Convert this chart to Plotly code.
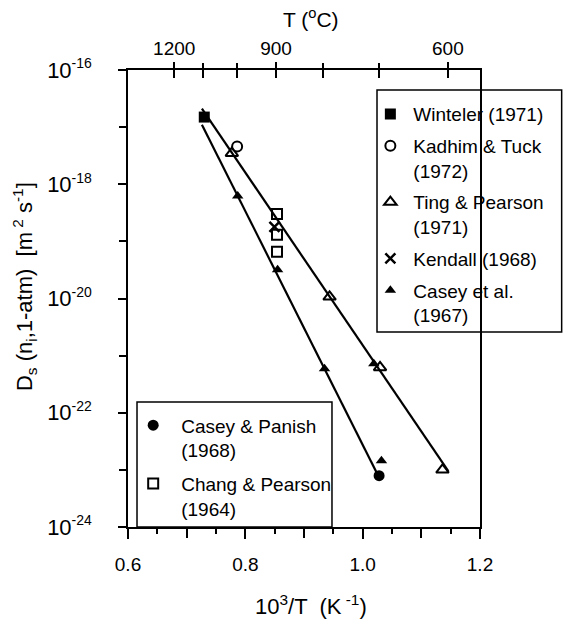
import plotly.graph_objects as go

# ---------------- data ----------------
winteler_x = [0.730]
winteler_D = [1.5e-17]

kadhim_x = [0.786]
kadhim_D = [4.6e-18]

ting_x = [0.777, 0.9436, 1.0296, 1.136]
ting_D = [3.5e-18, 1.07e-20, 6.2e-22, 1.0e-23]

kendall_x = [0.8496]
kendall_D = [1.8e-19]

casey67_x = [0.787, 0.855, 0.935, 1.019, 1.032]
casey67_D = [6.2e-19, 3.2e-20, 5.9e-22, 7.2e-22, 1.45e-23]

caseypanish_x = [1.028]
caseypanish_D = [7.9e-24]

chang_x = [0.854, 0.854, 0.854]
chang_D = [3.0e-19, 1.3e-19, 6.6e-20]

fit_upper_x = [0.726, 1.146]
fit_upper_D = [2.1e-17, 9.5e-24]
fit_lower_x = [0.726, 1.025]
fit_lower_D = [1.1e-17, 8.5e-24]

x_labeled = [0.6, 0.8, 1.0, 1.2]
x_labels = ["0.6", "0.8", "1.0", "1.2"]
x_unlabeled = [0.7, 0.9, 1.1]
y_labeled_exp = [-16, -18, -20, -22, -24]
y_unlabeled_exp = [-17, -19, -21, -23]
top_temps_C = [1200, 1100, 1000, 900, 800, 700, 600]
top_labeled_C = [1200, 900, 600]

# ---------------- figure ----------------
FONT = "Liberation Sans, Arial, sans-serif"
fig = go.Figure()

lk = dict(color="black", width=2.2)
fig.add_trace(go.Scatter(x=fit_upper_x, y=fit_upper_D, mode="lines", line=lk,
                         showlegend=False, hoverinfo="skip"))
fig.add_trace(go.Scatter(x=fit_lower_x, y=fit_lower_D, mode="lines", line=lk,
                         showlegend=False, hoverinfo="skip"))

def pts(x, y, name, symbol, size, legend, group, lw=2):
    fig.add_trace(go.Scatter(
        x=x, y=y, mode="markers", name=name, legend=legend, legendgroup=group,
        marker=dict(symbol=symbol, size=size, color="black",
                    line=dict(color="black", width=lw))))

pts(winteler_x, winteler_D, "Winteler (1971)", "square", 11, "legend", "a", 0)
pts(kadhim_x, kadhim_D, "Kadhim & Tuck<br>(1972)", "circle-open", 10, "legend", "b")
pts(ting_x, ting_D, "Ting & Pearson<br>(1971)", "triangle-up-open", 11, "legend", "c")
pts(kendall_x, kendall_D, "Kendall (1968)", "x-thin-open", 10, "legend", "d", 2.5)
pts(casey67_x, casey67_D, "Casey et al.<br>(1967)", "triangle-up", 10, "legend", "e", 0)
pts(caseypanish_x, caseypanish_D, "Casey & Panish<br>(1968)", "circle", 11, "legend2", "f", 0)
pts(chang_x, chang_D, "Chang & Pearson<br>(1964)", "square-open", 10, "legend2", "g")

# dummy traces to bind the helper axes
for xa in ["x2", "x3", "x4", "x5"]:
    fig.add_trace(go.Scatter(x=[None], y=[None], xaxis=xa, yaxis="y",
                             showlegend=False, hoverinfo="skip"))
fig.add_trace(go.Scatter(x=[None], y=[None], xaxis="x", yaxis="y2",
                         showlegend=False, hoverinfo="skip"))

inv_T = lambda tc: 1000.0 / (tc + 273.15)
top_all = [inv_T(t) for t in top_temps_C]
top_lab = [inv_T(t) for t in top_labeled_C]

base = dict(showgrid=False, zeroline=False, linecolor="black", linewidth=1.5,
            tickcolor="black", tickwidth=1.5)
f19 = dict(tickfont=dict(family=FONT, size=19, color="black"))
XR = [0.6, 1.2]

fig.update_layout(
    width=563, height=625,
    margin=dict(l=128, r=83, t=70, b=98),
    paper_bgcolor="white", plot_bgcolor="white",
    font=dict(family=FONT, size=19, color="black"),
    xaxis=dict(range=XR, tickmode="array", tickvals=x_labeled, ticktext=x_labels,
               ticks="outside", ticklen=10, showline=True, ticklabelstandoff=9,
               minor=dict(tickmode="linear", tick0=0.65, dtick=0.1, ticks="outside",
                          ticklen=5, tickwidth=1.5, tickcolor="black"),
               **base, **f19),
    xaxis5=dict(range=XR, overlaying="x", side="bottom", tickmode="array",
                tickvals=x_unlabeled, ticks="outside", ticklen=10,
                showticklabels=False, showline=False, **base),
    xaxis2=dict(range=XR, overlaying="x", side="top", tickmode="array",
                tickvals=top_lab, ticktext=[str(t) for t in top_labeled_C],
                ticks="outside", ticklen=6, showline=True, ticklabelstandoff=0,
                **base, **f19),
    xaxis3=dict(range=XR, overlaying="x", side="top", tickmode="array",
                tickvals=top_all, ticks="outside", ticklen=6,
                showticklabels=False, showline=False, **base),
    xaxis4=dict(range=XR, overlaying="x", side="top", tickmode="array",
                tickvals=top_all, ticks="inside", ticklen=8,
                showticklabels=False, showline=False, **base),
    yaxis=dict(type="log", range=[-24, -16], tickmode="array",
               tickvals=[10.0 ** e for e in y_labeled_exp],
               ticktext=["10<sup><span style='font-size:14px'>%d</span></sup>" % e
                         for e in y_labeled_exp],
               ticks="outside", ticklen=8, showline=True, mirror=True,
               ticklabelstandoff=22, tickfont=dict(family=FONT, size=22, color="black"),
               **base),
    yaxis2=dict(type="log", range=[-24, -16], overlaying="y", side="left",
                tickmode="array", tickvals=[10.0 ** e for e in y_unlabeled_exp],
                ticks="outside", ticklen=8, showticklabels=False, showline=False,
                **base),
    legend=dict(x=0.68, y=0.945, xanchor="left", yanchor="top", bgcolor="rgba(0,0,0,0)",
                borderwidth=0, itemwidth=36, valign="top", tracegroupgap=4,
                traceorder="grouped", font=dict(family=FONT, size=19, color="black")),
    legend2=dict(x=-0.008, y=0.264, xanchor="left", yanchor="top",
                 bgcolor="rgba(0,0,0,0)", borderwidth=0, itemwidth=46, valign="top",
                 tracegroupgap=6, traceorder="grouped",
                 font=dict(family=FONT, size=19, color="black")),
    shapes=[
        dict(type="rect", xref="paper", yref="paper", x0=0.7074, x1=1.232,
             y0=0.4267, y1=0.956, line=dict(color="black", width=1.5),
             fillcolor="white", layer="below"),
        dict(type="rect", xref="paper", yref="paper", x0=0.0256, x1=0.5795,
             y0=0.0, y1=0.2735, line=dict(color="black", width=1.5),
             fillcolor="white", layer="below"),
    ],
    annotations=[
        dict(text="T (<sup>o</sup>C)", xref="paper", yref="paper", x=0.52, y=1.0,
             yshift=52, showarrow=False, xanchor="center", yanchor="middle",
             font=dict(family=FONT, size=21)),
        dict(text="10<sup>3</sup>/T  (K<sup> -1</sup>)", xref="paper", yref="paper",
             x=0.52, y=0.0, yshift=-78, showarrow=False, xanchor="center",
             yanchor="middle", font=dict(family=FONT, size=22)),
        dict(text="D<sub>s</sub> (n<sub>i</sub>,1-atm)  [m<sup> 2</sup> s<sup>-1</sup>]",
             xref="paper", yref="paper", x=0.0, xshift=-104, y=0.525, textangle=-90,
             showarrow=False, xanchor="center", yanchor="middle",
             font=dict(family=FONT, size=22)),
    ],
)

fig.write_html("out.html")
